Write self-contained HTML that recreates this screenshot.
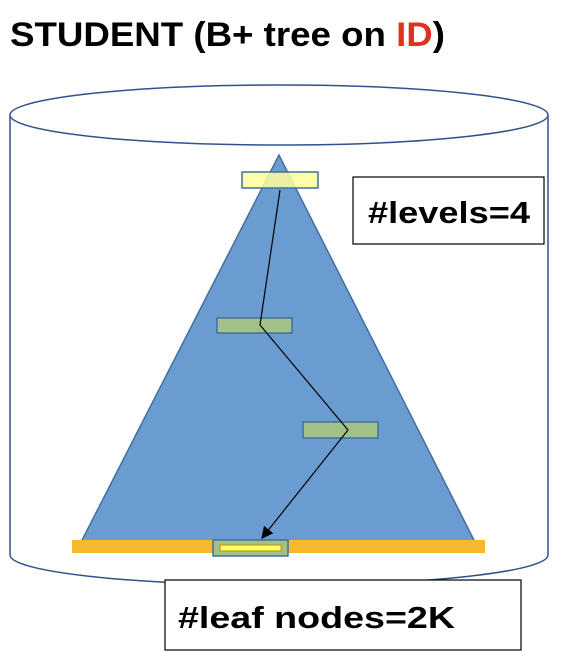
<!DOCTYPE html>
<html><head><meta charset="utf-8"><style>
body{margin:0;width:582px;height:664px;background:#fff;overflow:hidden}
svg{display:block}
</style></head><body>
<svg width="582" height="664" viewBox="0 0 582 664" xmlns="http://www.w3.org/2000/svg">
<defs><marker id="ah" markerWidth="10" markerHeight="10" refX="9" refY="5" orient="auto"><path d="M0,0 L10,5 L0,10 z" fill="#000"/></marker></defs>
<text x="10" y="46" textLength="435" lengthAdjust="spacingAndGlyphs" font-family="Liberation Sans, sans-serif" font-weight="bold" font-size="34" fill="#000">STUDENT (B+ tree on <tspan fill="#e03020">ID</tspan>)</text>
<g>
<path d="M10,115 L10,555 A269,30 0 0 0 548,555 L548,115" fill="#fff" stroke="#2f528f" stroke-width="1.5"/>
<ellipse cx="279" cy="115" rx="269" ry="30" fill="#fff" stroke="#2f528f" stroke-width="1.5"/>
</g>
<polygon points="279,155 78,548 478,548" fill="#6a9bd1" stroke="#41719c" stroke-width="1.5"/>
<rect x="242" y="172" width="76" height="16" fill="#ffff99" fill-opacity="0.85" stroke="#41719c" stroke-width="1.5"/>
<rect x="217" y="318" width="75" height="15" fill="#a3c08a" stroke="#41719c" stroke-width="1.5"/>
<rect x="303" y="422" width="75" height="16" fill="#a3c08a" stroke="#41719c" stroke-width="1.5"/>
<rect x="72" y="540" width="413" height="13" fill="#f5b82e"/>
<rect x="213" y="540" width="75" height="16" fill="#a3c08a" stroke="#41719c" stroke-width="1.5"/>
<rect x="220" y="545" width="61" height="6" fill="#ffff66" stroke="#c09000" stroke-width="1"/>
<polyline points="280,190 260,325 348,430 262,538" fill="none" stroke="#000" stroke-width="1.2" marker-end="url(#ah)"/>
<g>
<rect x="353" y="177" width="191" height="67" fill="#fff" stroke="#000" stroke-width="1.2"/>
<text x="368" y="223" textLength="162" lengthAdjust="spacingAndGlyphs" font-family="Liberation Sans, sans-serif" font-weight="bold" font-size="31">#levels=4</text>
</g>
<g>
<rect x="165" y="580" width="356" height="70" fill="#fff" stroke="#000" stroke-width="1.2"/>
<text x="178" y="628" textLength="277" lengthAdjust="spacingAndGlyphs" font-family="Liberation Sans, sans-serif" font-weight="bold" font-size="31">#leaf nodes=2K</text>
</g>
</svg>
</body></html>
